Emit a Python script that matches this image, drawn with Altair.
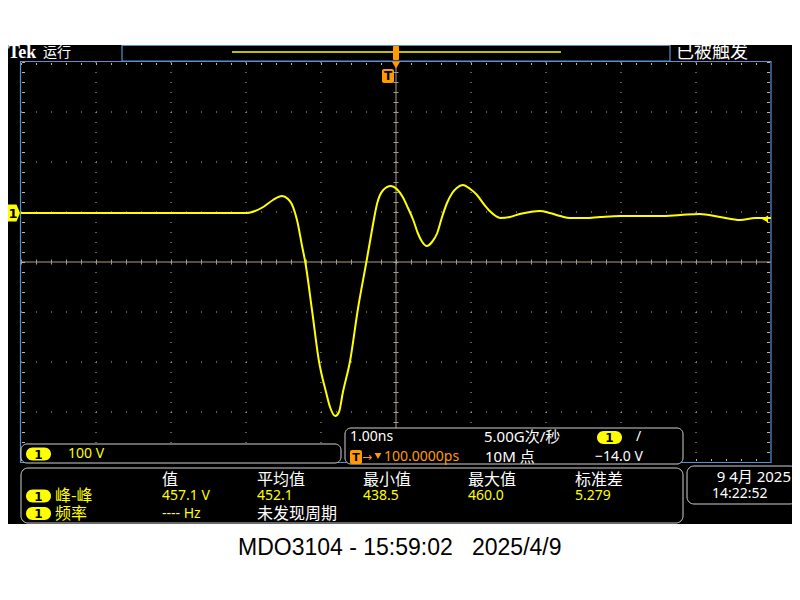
import altair as alt
import pandas as pd

# ---------------- data ----------------
# channel 1 trace: time (ns, 1 ns/div, centre = trigger) and voltage (V, 100 V/div)
time_ns = [-5.00, -3.28, -1.99, -1.88, -1.77, -1.64, -1.52, -1.44, -1.39, -1.35, -1.32,
           -1.25, -1.21, -1.12, -1.03, -0.93, -0.88, -0.81, -0.76, -0.71, -0.61, -0.51,
           -0.39, -0.32, -0.25, -0.17, -0.07, 0.01, 0.09, 0.16, 0.23, 0.29, 0.35, 0.41,
           0.48, 0.55, 0.61, 0.68, 0.75, 0.81, 0.89, 0.99, 1.08, 1.17, 1.25, 1.33, 1.39,
           1.52, 1.65, 1.79, 1.92, 2.05, 2.19, 2.32, 2.52, 2.72, 2.99, 3.25, 3.52, 3.79,
           4.05, 4.32, 4.59, 4.79, 5.00]
volts = [98, 98, 98, 102, 110, 124, 132, 126, 116, 100, 84, 30, 0, -96, -196, -262, -290,
         -308, -300, -262, -196, -96, 4, 64, 118, 144, 152, 146, 130, 108, 84, 58, 40, 32,
         40, 58, 88, 118, 138, 148, 154, 146, 134, 116, 102, 92, 88, 90, 96, 100, 102, 98,
         92, 88, 88, 90, 92, 92, 92, 94, 96, 90, 84, 88, 88]

grid_time = [-4, -3, -2, -1, 1, 2, 3, 4]
grid_volts = [-300, -200, -100, 100, 200, 300]

status_left = "运行"
status_right = "已被触发"
channel_scale = "100 V"
timebase = "1.00ns"
sample_rate = "5.00G次/秒"
record_len = "10M 点"
trig_level = "−14.0 V"
trig_delay = "100.0000ps"
meas_headers = ["值", "平均值", "最小值", "最大值", "标准差"]
meas_pp_label = "峰-峰"
meas_pp_values = ["457.1 V", "452.1", "438.5", "460.0", "5.279"]
meas_freq_label = "频率"
meas_freq_value = "---- Hz"
meas_freq_note = "未发现周期"
date_text = "9 4月 2025"
time_text = "14:22:52"
caption_left = "MDO3104 - 15:59:02"
caption_right = "2025/4/9"

# ---------------- styling ----------------
BLUE = "#5b8fd0"
TAN = "#a89c88"
DOT = "#c8b898"
YEL = "#ffff00"
ORANGE = "#ff9b00"
WHITE = "#ffffff"
BOXS = "#d0d0d0"
LAT = "Noto Sans, Noto Sans CJK SC"
CJK = "Noto Sans CJK SC"

OX, OY = 21, 62          # plot origin on the page
W, H = 750, 400
ONE = pd.DataFrame({"k": [0]})

xs = alt.Scale(domain=[-5, 5], nice=False, zero=False)
ys = alt.Scale(domain=[-400, 400], nice=False, zero=False)


def X(p):
    return alt.value(p - OX)


def Y(p):
    return alt.value(p - OY)


def box(x0, y0, x1, y1, fill="#000000", stroke=None, radius=0, sw=1.0, fo=1.0):
    kw = dict(fill=fill, cornerRadius=radius, fillOpacity=fo)
    if stroke:
        kw.update(stroke=stroke, strokeWidth=sw)
    return alt.Chart(ONE).mark_rect(**kw).encode(x=X(x0), x2=X(x1), y=Y(y0), y2=Y(y1))


def text(x, y, s, color=WHITE, size=14, font=LAT, weight="normal", align="left"):
    return alt.Chart(ONE).mark_text(text=s, color=color, fontSize=size, font=font,
                                    fontWeight=weight, align=align,
                                    baseline="middle").encode(x=X(x), y=Y(y))


def badge(cx, cy):
    return [box(cx - 12.5, cy - 6.5, cx + 12.5, cy + 6.5, fill=YEL, radius=6.5),
            text(cx, cy + 0.5, "1", color="#000000", size=12, font="DejaVu Sans",
                 weight="bold", align="center")]


layers = []
# screen background
layers.append(box(0, 45, 800, 524, fill="#000000"))

# top bar
layers.append(box(122, 45.5, 670, 61, fill="#000000", stroke=BLUE, sw=1.2))
layers.append(alt.Chart(ONE).mark_rule(color=YEL, strokeWidth=1.5).encode(x=X(232), x2=X(561), y=Y(52)))
layers.append(text(8, 53, "Tek", size=18, font="Liberation Serif", weight="bold"))
layers.append(text(43, 53, status_left, size=14, font=CJK))
layers.append(text(676, 53, status_right, size=18, font=CJK))

# graticule
gv = pd.DataFrame({"t": grid_time})
gh = pd.DataFrame({"v": grid_volts})
layers.append(alt.Chart(gv).mark_rule(color=DOT, strokeDash=[1, 9], strokeWidth=1).encode(
    x=alt.X("t:Q", scale=xs, axis=None), y=alt.value(0), y2=alt.value(H)))
layers.append(alt.Chart(gh).mark_rule(color=DOT, strokeDash=[1, 14], strokeWidth=1).encode(
    y=alt.Y("v:Q", scale=ys, axis=None), x=alt.value(0), x2=alt.value(W)))
# centre cross with ticks
layers.append(alt.Chart(ONE).mark_rule(color=TAN, strokeWidth=1).encode(
    x=alt.value(0), x2=alt.value(W), y=alt.value(H / 2)))
layers.append(alt.Chart(ONE).mark_rule(color=TAN, strokeWidth=5, strokeDash=[1, 14]).encode(
    x=alt.value(0), x2=alt.value(W), y=alt.value(H / 2)))
layers.append(alt.Chart(ONE).mark_rule(color=TAN, strokeWidth=1).encode(
    y=alt.value(0), y2=alt.value(H), x=alt.value(W / 2)))
layers.append(alt.Chart(ONE).mark_rule(color=TAN, strokeWidth=5, strokeDash=[1, 9]).encode(
    y=alt.value(0), y2=alt.value(H), x=alt.value(W / 2)))
# edge ticks
layers.append(alt.Chart(ONE).mark_rule(color=DOT, strokeWidth=2, strokeDash=[1, 14]).encode(
    x=alt.value(0), x2=alt.value(W), y=alt.value(2)))
layers.append(alt.Chart(ONE).mark_rule(color=DOT, strokeWidth=2, strokeDash=[1, 14]).encode(
    x=alt.value(0), x2=alt.value(W), y=alt.value(H - 2)))
layers.append(alt.Chart(ONE).mark_rule(color=DOT, strokeWidth=3, strokeDash=[1, 9]).encode(
    y=alt.value(0), y2=alt.value(H), x=alt.value(2.5)))
layers.append(alt.Chart(ONE).mark_rule(color=DOT, strokeWidth=3, strokeDash=[1, 9]).encode(
    y=alt.value(0), y2=alt.value(H), x=alt.value(W - 2.5)))
# border
layers.append(box(20.5, 61.5, 771, 462.5, fill="#000000", fo=0, stroke=BLUE, sw=1.2))

# trace
wave = pd.DataFrame({"t": time_ns, "v": volts})
layers.append(alt.Chart(wave).mark_line(color=YEL, strokeWidth=2, interpolate="monotone").encode(
    x=alt.X("t:Q", scale=xs, axis=None), y=alt.Y("v:Q", scale=ys, axis=None)))

# trigger markers
layers.append(box(393, 46, 399, 60, fill=ORANGE, radius=1))
layers.append(alt.Chart(ONE).mark_point(shape="triangle-down", size=70, filled=True, color=ORANGE, opacity=1).encode(
    x=X(396), y=Y(65)))
layers.append(box(382, 69, 394, 83, fill=ORANGE, radius=2))
layers.append(text(388, 76, "T", color="#000000", size=12, font="DejaVu Sans", weight="bold", align="center"))
# channel 1 marker and trigger level arrow
layers.append(alt.Chart(ONE).mark_point(
    shape="M-0.6,-0.85 L0.25,-0.85 L0.6,0 L0.25,0.85 L-0.6,0.85 Z", size=400, filled=True,
    color=YEL, opacity=1).encode(x=X(14), y=Y(213)))
layers.append(text(13, 213.5, "1", color="#000000", size=13, font="DejaVu Sans", weight="bold", align="center"))
layers.append(alt.Chart(ONE).mark_point(shape="triangle-left", size=50, filled=True, color=YEL, opacity=1).encode(
    x=X(765), y=Y(219)))

# channel box
layers.append(box(21, 444, 341, 463, fill="#000000", stroke=BOXS, radius=6))
layers += badge(38.5, 454)
layers.append(text(68, 454, channel_scale, color=YEL, size=14))

# timebase / trigger box
layers.append(box(345, 428, 683, 464, fill="#000000", stroke=BOXS, radius=6))
layers.append(text(350, 437, timebase, size=14))
layers.append(text(484, 437, sample_rate, size=15))
layers += badge(609.5, 437.5)
layers.append(text(636, 437, "/", size=14))
layers.append(box(350, 450, 362, 464, fill=ORANGE, radius=2))
layers.append(text(356, 457.5, "T", color="#000000", size=11, font="DejaVu Sans", weight="bold", align="center"))
layers.append(text(362, 457, "→", color=ORANGE, size=12, font="DejaVu Sans"))
layers.append(alt.Chart(ONE).mark_point(shape="triangle-down", size=45, filled=True, color=ORANGE, opacity=1).encode(
    x=X(378), y=Y(456)))
layers.append(text(384, 457, trig_delay, color=ORANGE, size=14))
layers.append(text(485, 457, record_len, size=15))
layers.append(text(595, 457, trig_level, size=14))

# measurement box
layers.append(box(21, 468, 683, 523, fill="#000000", stroke=BOXS, radius=7))
cols = [162, 257, 363, 468, 575]
for cx, h in zip(cols, meas_headers):
    layers.append(text(cx, 479.5, h, size=16, font=CJK))
layers += badge(38.5, 496)
layers.append(text(55, 496, meas_pp_label, color=YEL, size=16, font=CJK))
for cx, v in zip(cols, meas_pp_values):
    layers.append(text(cx, 496, v, color=YEL, size=14))
layers += badge(38.5, 513.5)
layers.append(text(55, 513.5, meas_freq_label, color=YEL, size=16, font=CJK))
layers.append(text(162, 513.5, meas_freq_value, color=YEL, size=14))
layers.append(text(257, 513.5, meas_freq_note, size=16, font=CJK))

# date box
layers.append(box(687, 466, 797, 504, fill="#000000", stroke=BOXS, radius=7))
layers.append(text(791, 477, date_text, size=15, align="right"))
layers.append(text(712, 494, time_text, size=14))

# caption under the screen
layers.append(text(238, 548, caption_left, color="#000000", size=23, font="Liberation Sans"))
layers.append(text(472, 548, caption_right, color="#000000", size=23, font="Liberation Sans"))

chart = alt.layer(*layers).properties(
    width=W, height=H,
    padding={"left": 13, "top": 54, "right": 21, "bottom": 130},
    autosize=alt.AutoSizeParams(type="none"),
    background="white",
).configure_view(stroke=None)

chart.save("out.html", embed_options={"renderer": "svg", "actions": False})
